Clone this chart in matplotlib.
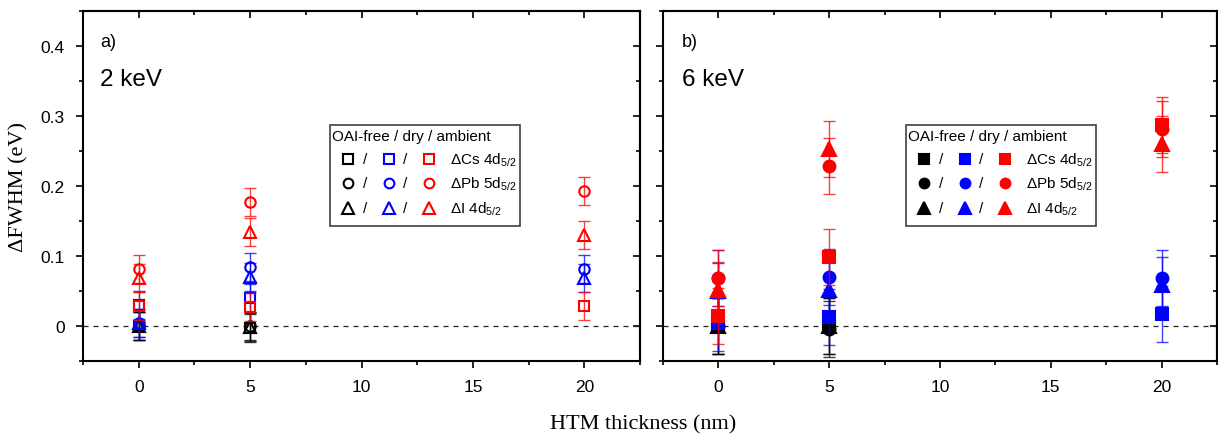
import numpy as np
import matplotlib
matplotlib.use("Agg")
import matplotlib.pyplot as plt
from matplotlib.patches import Rectangle
from matplotlib.ticker import MultipleLocator, FuncFormatter, NullFormatter

plt.rcParams['font.family'] = ['Liberation Sans', 'DejaVu Sans']
plt.rcParams['mathtext.default'] = 'regular'

nan = np.nan

# HTM thickness (nm)
thickness = [0, 5, 20]

# ---- 2 keV: FWHM change (eV) per core level and sample condition ----
cs_2kev_oaifree = [0.000, -0.003, nan]
pb_2kev_oaifree = [0.000, 0.000, nan]
i_2kev_oaifree = [0.000, -0.002, nan]
cs_2kev_dry = [0.030, 0.040, nan]
pb_2kev_dry = [0.005, 0.085, 0.081]
i_2kev_dry = [0.005, 0.070, 0.068]
cs_2kev_ambient = [0.028, 0.027, 0.028]
pb_2kev_ambient = [0.082, 0.177, 0.193]
i_2kev_ambient = [0.068, 0.134, 0.130]
err_2kev = [0.02, 0.02, 0.02]

# ---- 6 keV ----
cs_6kev_oaifree = [0.000, 0.000, nan]
pb_6kev_oaifree = [0.000, -0.004, nan]
i_6kev_oaifree = [0.000, 0.000, nan]
cs_6kev_dry = [0.005, 0.013, 0.017]
pb_6kev_dry = [0.068, 0.070, 0.069]
i_6kev_dry = [0.050, 0.051, 0.059]
cs_6kev_ambient = [0.015, 0.099, 0.287]
pb_6kev_ambient = [0.069, 0.229, 0.281]
i_6kev_ambient = [0.051, 0.253, 0.260]
err_6kev = [0.04, 0.04, 0.04]

conditions = ['OAI-free', 'dry', 'ambient']
condition_colors = ['black', 'blue', 'red']
level_labels = ['ΔCs 4d$_{5/2}$', 'ΔPb 5d$_{5/2}$', 'ΔI 4d$_{5/2}$']
level_markers = ['s', 'o', '^']

data_2kev = [
    [cs_2kev_oaifree, pb_2kev_oaifree, i_2kev_oaifree],
    [cs_2kev_dry, pb_2kev_dry, i_2kev_dry],
    [cs_2kev_ambient, pb_2kev_ambient, i_2kev_ambient],
]
data_6kev = [
    [cs_6kev_oaifree, pb_6kev_oaifree, i_6kev_oaifree],
    [cs_6kev_dry, pb_6kev_dry, i_6kev_dry],
    [cs_6kev_ambient, pb_6kev_ambient, i_6kev_ambient],
]

W, H = 1218, 439
fig = plt.figure(figsize=(W / 100, H / 100), dpi=100)


def fx(px):
    return px / W


def fy(py):
    return 1 - py / H


ax_a = fig.add_axes([fx(83), fy(362), fx(640) - fx(83), fy(12) - fy(362)])
ax_b = fig.add_axes([fx(663), fy(362), fx(1217) - fx(663), fy(12) - fy(362)])


def style_axes(ax, show_ylabels):
    ax.set_xlim(-2.5, 22.5)
    ax.set_ylim(-0.05, 0.45)
    for s in ax.spines.values():
        s.set_linewidth(1.5)
    ax.xaxis.set_major_locator(MultipleLocator(5))
    ax.xaxis.set_minor_locator(MultipleLocator(2.5))
    ax.yaxis.set_major_locator(MultipleLocator(0.1))
    ax.yaxis.set_minor_locator(MultipleLocator(0.05))
    ax.yaxis.set_major_formatter(FuncFormatter(lambda v, p: f"{v:g}" if abs(v) > 1e-9 else "0"))
    ax.tick_params(which='major', direction='out', length=5, width=1.2,
                   labelsize=12.5, pad=8)
    ax.tick_params(which='minor', direction='out', length=3, width=1.2)
    if not show_ylabels:
        ax.tick_params(axis='y', labelleft=False)
    # inward ticks on the top and right frame
    top = ax.secondary_xaxis('top')
    top.xaxis.set_major_locator(MultipleLocator(5))
    top.xaxis.set_minor_locator(MultipleLocator(2.5))
    top.tick_params(which='major', direction='in', length=5, width=1.2, labeltop=False)
    top.tick_params(which='minor', direction='in', length=3, width=1.2)
    top.xaxis.set_major_formatter(NullFormatter())
    top.spines['top'].set_linewidth(1.5)
    right = ax.secondary_yaxis('right')
    right.yaxis.set_major_locator(MultipleLocator(0.1))
    right.yaxis.set_minor_locator(MultipleLocator(0.05))
    right.tick_params(which='major', direction='in', length=5, width=1.2, labelright=False)
    right.tick_params(which='minor', direction='in', length=3, width=1.2)
    right.yaxis.set_major_formatter(NullFormatter())
    right.spines['right'].set_linewidth(1.5)
    ax.axhline(0, color='#222222', lw=0.9, ls=(0, (4, 4)), zorder=1)


def draw_panel(ax, data, err, filled):
    for ci, color in enumerate(condition_colors):
        for li, marker in enumerate(level_markers):
            y = data[ci][li]
            ms = 8.5 if filled else 7.5
            if marker == '^':
                ms += 1.0
            ax.errorbar(thickness, y, yerr=err, fmt='none', ecolor=color,
                        elinewidth=1.0, capsize=4.5, capthick=1.0, alpha=0.75,
                        zorder=2 + ci)
            ax.plot(thickness, y, ls='none', marker=marker, ms=ms,
                    mfc=color if filled else 'none', mec=color,
                    mew=1.5, zorder=3 + ci)


KEY_FS = 11


def draw_key(left_px, top_px, right_px, bottom_px, filled):
    fig.add_artist(Rectangle((fx(left_px), fy(bottom_px)),
                             fx(right_px) - fx(left_px), fy(top_px) - fy(bottom_px),
                             transform=fig.transFigure, fill=False,
                             ec='#404040', lw=1.2, zorder=10))
    fig.text(fx(left_px + 2), fy(137), 'OAI-free / dry / ambient', fontsize=KEY_FS,
             va='center', ha='left', zorder=11)
    rows = [160, 184, 209]
    mx = [18, 59, 99]
    sx = [35, 75]
    for li, (marker, label) in enumerate(zip(level_markers, level_labels)):
        yy = fy(rows[li])
        for ci, color in enumerate(condition_colors):
            ms = 7 if marker != '^' else 8
            fig.add_artist(plt.Line2D([fx(left_px + mx[ci])], [yy],
                                      transform=fig.transFigure, ls='none',
                                      marker=marker, ms=ms,
                                      mfc=color if filled else 'none',
                                      mec=color, mew=1.5, zorder=11))
        for s in sx:
            fig.text(fx(left_px + s), yy, '/', fontsize=KEY_FS, ha='center',
                     va='center', zorder=11)
        fig.text(fx(left_px + 120), yy, label, fontsize=KEY_FS, ha='left',
                 va='center', zorder=11)


style_axes(ax_a, True)
style_axes(ax_b, False)
draw_panel(ax_a, data_2kev, err_2kev, filled=False)
draw_panel(ax_b, data_6kev, err_6kev, filled=True)

ax_a.text(0.031, 0.914, 'a)', transform=ax_a.transAxes, fontsize=13,
          ha='left', va='center')
ax_a.text(0.031, 0.806, '2 keV', transform=ax_a.transAxes, fontsize=17.5,
          ha='left', va='center')
ax_b.text(0.034, 0.914, 'b)', transform=ax_b.transAxes, fontsize=13,
          ha='left', va='center')
ax_b.text(0.034, 0.806, '6 keV', transform=ax_b.transAxes, fontsize=17.5,
          ha='left', va='center')

draw_key(330, 126, 520, 227, filled=False)
draw_key(906, 126, 1096, 227, filled=True)

fig.text(fx(19), fy(187), 'ΔFWHM (eV)', rotation=90, ha='center', va='center',
         fontsize=16, family=['Liberation Serif', 'DejaVu Serif'])
fig.text(fx(643), fy(425), 'HTM thickness (nm)', ha='center', va='center',
         fontsize=16, family=['Liberation Serif', 'DejaVu Serif'])

fig.savefig('out.png', dpi=100)
